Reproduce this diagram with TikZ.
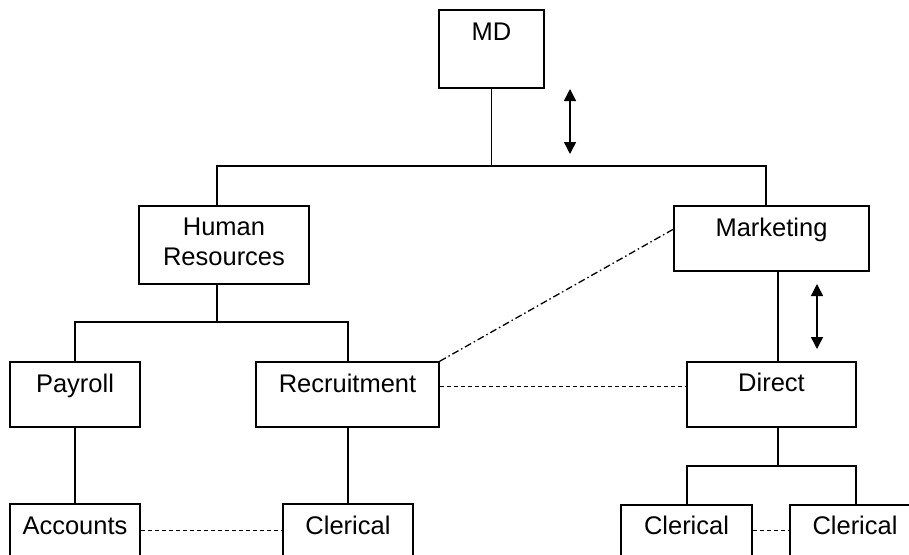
\documentclass[tikz,border=0pt]{standalone}
\usepackage{fontspec}
\setmainfont{Liberation Sans}
\usetikzlibrary{arrows.meta,calc}
\begin{document}
\begin{tikzpicture}[x=1pt,y=-1pt,
  box/.style={draw,line width=1.5pt,inner sep=0pt},
  lbl/.style={anchor=base,inner sep=0pt,font=\fontsize{25.5}{30}\selectfont,align=center},
  conn/.style={line width=1.5pt},
  dashln/.style={line width=1.3pt,dash pattern=on 4.5pt off 2.5pt},
  dashdotln/.style={line width=1.3pt,dash pattern=on 7pt off 3pt on 1.5pt off 3pt},
  dblarrow/.style={line width=1.5pt,{Triangle[width=12pt,length=12pt]}-{Triangle[width=12pt,length=12pt]}}]
\useasboundingbox (0,0) rectangle (909,554);
\clip (0,0) rectangle (909,554);
% boxes
\node[box,minimum width=105pt,minimum height=78pt] (md) at (491.5,49) {};
\node[box,minimum width=170pt,minimum height=78pt] (hr) at (224,245) {};
\node[box,minimum width=195pt,minimum height=65pt] (mk) at (771.5,238.5) {};
\node[box,minimum width=130pt,minimum height=65pt] (pay) at (75,394.5) {};
\node[box,minimum width=183pt,minimum height=65pt] (rec) at (347.5,394.5) {};
\node[box,minimum width=169pt,minimum height=65pt] (dir) at (771.5,394.5) {};
\node[box,minimum width=130pt,minimum height=65pt] (acc) at (75,536.5) {};
\node[box,minimum width=130pt,minimum height=65pt] (cl1) at (348,536.5) {};
\node[box,minimum width=131pt,minimum height=65pt] (cl3) at (686.5,537.5) {};
\node[box,minimum width=130pt,minimum height=65pt] (cl4) at (855,537.5) {};
% labels
\node[lbl] (tmd) at ([yshift=-31pt]md.north) {MD};
\node[lbl] (thr) at ([yshift=-60pt]hr.north) {Human\\Resources};
\node[lbl] (tmk) at ([yshift=-31pt]mk.north) {Marketing};
\node[lbl] (tpay) at ([yshift=-31pt]pay.north) {Payroll};
\node[lbl] (trec) at ([yshift=-31pt]rec.north) {Recruitment};
\node[lbl] (tdir) at ([yshift=-30pt]dir.north) {Direct};
\node[lbl] (tacc) at ([yshift=-31pt]acc.north) {Accounts};
\node[lbl] (tcl1) at ([yshift=-31pt]cl1.north) {Clerical};
\node[lbl] (tcl3) at ([yshift=-30pt]cl3.north) {Clerical};
\node[lbl] (tcl4) at ([yshift=-30pt]cl4.north) {Clerical};
% top bus
\coordinate (b1) at (217,166);
\coordinate (b2) at (766,166);
\draw[conn] (md.south) -- (md.south |- b1);
\draw[conn] (b1 |- hr.north) -- (b1) -- (b2) -- (b2 |- mk.north);
% HR bus
\coordinate (h0) at (217,322);
\coordinate (h1) at (75,322);
\coordinate (h2) at (348,322);
\draw[conn] (h0 |- hr.south) -- (h0);
\draw[conn] (h1 |- pay.north) -- (h1) -- (h2) -- (h2 |- rec.north);
\draw[conn] (pay.south) -- (acc.north);
\draw[conn] (h2 |- rec.south) -- (h2 |- cl1.north);
% marketing branch
\coordinate (m0) at (778,466);
\coordinate (m1) at (687,466);
\coordinate (m2) at (856,466);
\draw[conn] (m0 |- mk.south) -- (m0 |- dir.north);
\draw[conn] (m0 |- dir.south) -- (m0);
\draw[conn] (m1 |- cl3.north) -- (m1) -- (m2) -- (m2 |- cl4.north);
% dashed links
\draw[dashln] ($(rec.north east)+(0,25)$) -- ($(dir.north west)+(0,25)$);
\draw[dashln] ($(acc.north east)+(0,27)$) -- ($(cl1.north west)+(0,27)$);
\draw[dashln] ($(cl3.north east)+(0,26)$) -- ($(cl4.north west)+(0,26)$);
\draw[dashdotln] (rec.north east) -- ($(mk.north west)+(0,24)$);
% arrows
\coordinate (a1) at (570,89);
\coordinate (a2) at (570,154);
\coordinate (a3) at (817,284);
\coordinate (a4) at (817,349);
\draw[dblarrow] (a1) -- (a2);
\draw[dblarrow] (a3) -- (a4);
\end{tikzpicture}
\end{document}
